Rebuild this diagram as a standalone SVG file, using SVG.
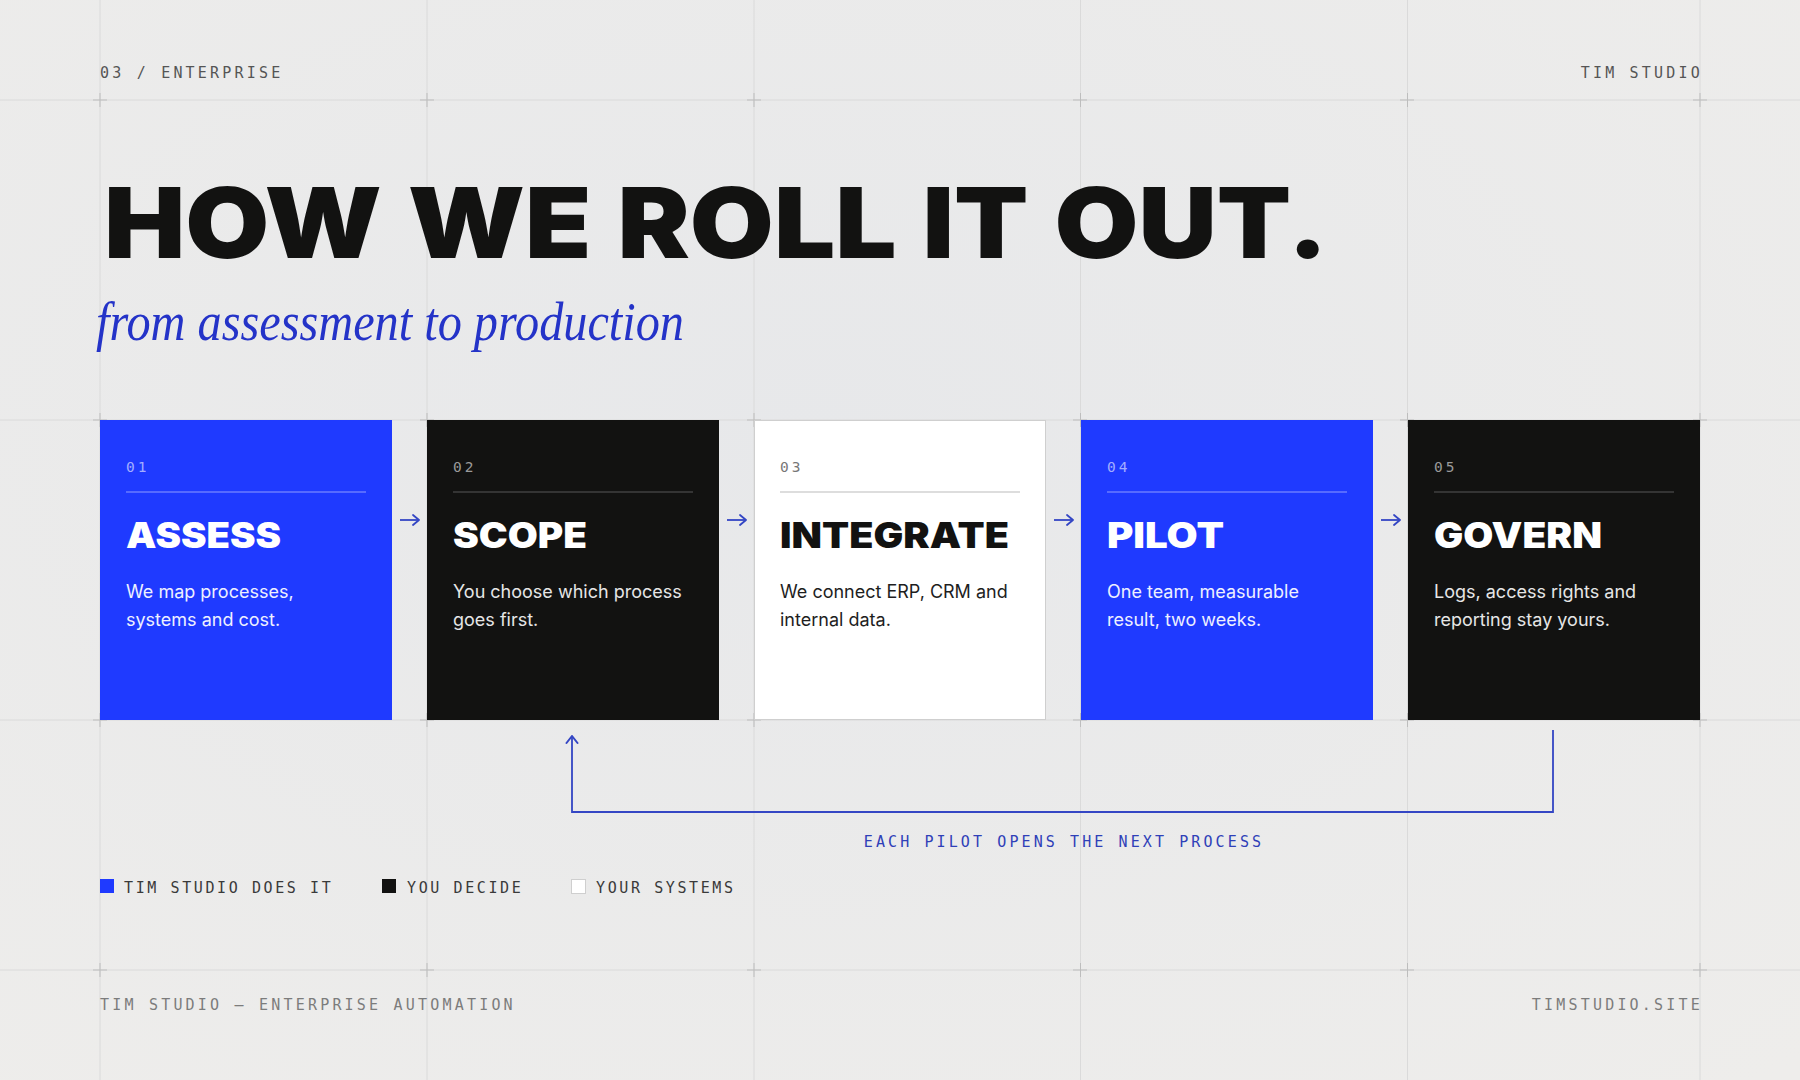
<svg xmlns="http://www.w3.org/2000/svg" width="1800" height="1080" viewBox="0 0 1800 1080">
  <defs>
    <radialGradient id="bg" cx="0.45" cy="0.4" r="0.8">
      <stop offset="0" stop-color="#e7e8ea"/>
      <stop offset="1" stop-color="#eeedeb"/>
    </radialGradient>
    <marker id="chev" viewBox="0 0 12 12" refX="11" refY="6" markerWidth="12" markerHeight="12" markerUnits="userSpaceOnUse" orient="auto">
      <polyline points="5,1 11,6 5,11" fill="none" stroke="#3446c4" stroke-width="1.8" stroke-linecap="round" stroke-linejoin="round"/>
    </marker>
    <marker id="chevUp" viewBox="0 0 14 14" refX="13" refY="7" markerWidth="14" markerHeight="14" markerUnits="userSpaceOnUse" orient="auto">
      <polyline points="6,1.5 13,7 6,12.5" fill="none" stroke="#3446c4" stroke-width="2" stroke-linecap="round" stroke-linejoin="round"/>
    </marker>
  </defs>
  <style>
    .grid line { stroke: #dadada; stroke-width: 1; }
    .cross line { stroke: #bdbdbd; stroke-width: 1; }
    .mono { font-family: "DejaVu Sans Mono", "Liberation Mono", monospace; }
    .meta { font-size: 15px; letter-spacing: 3.2px; fill: #555555; }
    .foot { font-size: 15px; letter-spacing: 3.2px; fill: #7c7c7c; }
    .legend { font-size: 15px; letter-spacing: 2.6px; fill: #3a3a3a; }
    .head { font-family: Inter, "Liberation Sans", sans-serif; font-weight: 900; font-size: 98px; fill: #121211; word-spacing: 4px; }
    .script { font-family: "Liberation Serif", "DejaVu Serif", serif; font-style: italic; font-size: 54px; fill: #2433c8; }
    .num { font-family: "DejaVu Sans Mono", "Liberation Mono", monospace; font-size: 14.5px; letter-spacing: 3px; }
    .title { font-family: Inter, "Liberation Sans", sans-serif; font-weight: 900; font-size: 35px; }
    .body { font-family: Inter, "Liberation Sans", sans-serif; font-size: 18px; }
    .blue .bg { fill: #1f3aff; }
    .blue .num { fill: #a3adff; }
    .blue .div { stroke: #6b7dff; }
    .blue .title { fill: #ffffff; }
    .blue .body { fill: #eef0ff; }
    .dark .bg { fill: #121211; }
    .dark .num { fill: #9a9a9a; }
    .dark .div { stroke: #404040; }
    .dark .title { fill: #ffffff; }
    .dark .body { fill: #e6e6e6; }
    .light .bg { fill: #ffffff; stroke: #cfcfcf; stroke-width: 1; }
    .light .num { fill: #777777; }
    .light .div { stroke: #d2d2d2; }
    .light .title { fill: #121211; }
    .light .body { fill: #1e1e1e; }
    .div { stroke-width: 1.5; }
    .conn { fill: none; stroke: #3446c4; stroke-width: 1.8; }
    .note { font-size: 15px; letter-spacing: 3.1px; fill: #2f40b8; }
  </style>

  <rect width="1800" height="1080" fill="url(#bg)"/>

  <g class="grid">
    <line x1="100" y1="0" x2="100" y2="1080"/>
    <line x1="427" y1="0" x2="427" y2="1080"/>
    <line x1="754" y1="0" x2="754" y2="1080"/>
    <line x1="1080.5" y1="0" x2="1080.5" y2="1080"/>
    <line x1="1407.5" y1="0" x2="1407.5" y2="1080"/>
    <line x1="1700" y1="0" x2="1700" y2="1080"/>
    <line x1="0" y1="100" x2="1800" y2="100"/>
    <line x1="0" y1="420" x2="1800" y2="420"/>
    <line x1="0" y1="720" x2="1800" y2="720"/>
    <line x1="0" y1="970" x2="1800" y2="970"/>
  </g>
  <g class="cross">
    <line x1="93" y1="100" x2="107" y2="100"/><line x1="100" y1="93" x2="100" y2="107"/>
    <line x1="420" y1="100" x2="434" y2="100"/><line x1="427" y1="93" x2="427" y2="107"/>
    <line x1="747" y1="100" x2="761" y2="100"/><line x1="754" y1="93" x2="754" y2="107"/>
    <line x1="1073" y1="100" x2="1087" y2="100"/><line x1="1080.5" y1="93" x2="1080.5" y2="107"/>
    <line x1="1400" y1="100" x2="1414" y2="100"/><line x1="1407.5" y1="93" x2="1407.5" y2="107"/>
    <line x1="1693" y1="100" x2="1707" y2="100"/><line x1="1700" y1="93" x2="1700" y2="107"/>
    <line x1="93" y1="420" x2="107" y2="420"/><line x1="100" y1="413" x2="100" y2="427"/>
    <line x1="420" y1="420" x2="434" y2="420"/><line x1="427" y1="413" x2="427" y2="427"/>
    <line x1="747" y1="420" x2="761" y2="420"/><line x1="754" y1="413" x2="754" y2="427"/>
    <line x1="1073" y1="420" x2="1087" y2="420"/><line x1="1080.5" y1="413" x2="1080.5" y2="427"/>
    <line x1="1400" y1="420" x2="1414" y2="420"/><line x1="1407.5" y1="413" x2="1407.5" y2="427"/>
    <line x1="1693" y1="420" x2="1707" y2="420"/><line x1="1700" y1="413" x2="1700" y2="427"/>
    <line x1="93" y1="720" x2="107" y2="720"/><line x1="100" y1="713" x2="100" y2="727"/>
    <line x1="420" y1="720" x2="434" y2="720"/><line x1="427" y1="713" x2="427" y2="727"/>
    <line x1="747" y1="720" x2="761" y2="720"/><line x1="754" y1="713" x2="754" y2="727"/>
    <line x1="1073" y1="720" x2="1087" y2="720"/><line x1="1080.5" y1="713" x2="1080.5" y2="727"/>
    <line x1="1400" y1="720" x2="1414" y2="720"/><line x1="1407.5" y1="713" x2="1407.5" y2="727"/>
    <line x1="1693" y1="720" x2="1707" y2="720"/><line x1="1700" y1="713" x2="1700" y2="727"/>
    <line x1="93" y1="970" x2="107" y2="970"/><line x1="100" y1="963" x2="100" y2="977"/>
    <line x1="420" y1="970" x2="434" y2="970"/><line x1="427" y1="963" x2="427" y2="977"/>
    <line x1="747" y1="970" x2="761" y2="970"/><line x1="754" y1="963" x2="754" y2="977"/>
    <line x1="1073" y1="970" x2="1087" y2="970"/><line x1="1080.5" y1="963" x2="1080.5" y2="977"/>
    <line x1="1400" y1="970" x2="1414" y2="970"/><line x1="1407.5" y1="963" x2="1407.5" y2="977"/>
    <line x1="1693" y1="970" x2="1707" y2="970"/><line x1="1700" y1="963" x2="1700" y2="977"/>
  </g>

  <g id="header">
    <text class="mono meta" x="100" y="78">03 / ENTERPRISE</text>
    <text class="mono meta" x="1703" y="78" text-anchor="end">TIM STUDIO</text>
  </g>

  <g id="title">
    <text class="head" x="104" y="258" textLength="1224" lengthAdjust="spacingAndGlyphs">HOW WE ROLL IT OUT.</text>
    <text class="script" x="96" y="340" textLength="588" lengthAdjust="spacingAndGlyphs">from assessment to production</text>
  </g>

  <g id="card-assess" class="blue">
    <rect class="bg" x="100" y="420" width="292" height="300"/>
    <text class="num" x="126" y="472">01</text>
    <line class="div" x1="126" y1="492" x2="366" y2="492"/>
    <text class="title" x="126" y="548" textLength="155" lengthAdjust="spacingAndGlyphs">ASSESS</text>
    <text class="body" x="126" y="598">We map processes,</text>
    <text class="body" x="126" y="626">systems and cost.</text>
  </g>
  <g id="card-scope" class="dark">
    <rect class="bg" x="427" y="420" width="292" height="300"/>
    <text class="num" x="453" y="472">02</text>
    <line class="div" x1="453" y1="492" x2="693" y2="492"/>
    <text class="title" x="453" y="548" textLength="134" lengthAdjust="spacingAndGlyphs">SCOPE</text>
    <text class="body" x="453" y="598">You choose which process</text>
    <text class="body" x="453" y="626">goes first.</text>
  </g>
  <g id="card-integrate" class="light">
    <rect class="bg" x="754.5" y="420.5" width="291" height="299"/>
    <text class="num" x="780" y="472">03</text>
    <line class="div" x1="780" y1="492" x2="1020" y2="492"/>
    <text class="title" x="780" y="548" textLength="229" lengthAdjust="spacingAndGlyphs">INTEGRATE</text>
    <text class="body" x="780" y="598">We connect ERP, CRM and</text>
    <text class="body" x="780" y="626">internal data.</text>
  </g>
  <g id="card-pilot" class="blue">
    <rect class="bg" x="1081" y="420" width="292" height="300"/>
    <text class="num" x="1107" y="472">04</text>
    <line class="div" x1="1107" y1="492" x2="1347" y2="492"/>
    <text class="title" x="1107" y="548" textLength="117" lengthAdjust="spacingAndGlyphs">PILOT</text>
    <text class="body" x="1107" y="598">One team, measurable</text>
    <text class="body" x="1107" y="626">result, two weeks.</text>
  </g>
  <g id="card-govern" class="dark">
    <rect class="bg" x="1408" y="420" width="292" height="300"/>
    <text class="num" x="1434" y="472">05</text>
    <line class="div" x1="1434" y1="492" x2="1674" y2="492"/>
    <text class="title" x="1434" y="548" textLength="168" lengthAdjust="spacingAndGlyphs">GOVERN</text>
    <text class="body" x="1434" y="598">Logs, access rights and</text>
    <text class="body" x="1434" y="626">reporting stay yours.</text>
  </g>

  <g id="connectors">
    <line class="conn" x1="400" y1="520" x2="419" y2="520" marker-end="url(#chev)"/>
    <line class="conn" x1="727" y1="520" x2="746" y2="520" marker-end="url(#chev)"/>
    <line class="conn" x1="1054" y1="520" x2="1073" y2="520" marker-end="url(#chev)"/>
    <line class="conn" x1="1381" y1="520" x2="1400" y2="520" marker-end="url(#chev)"/>
    <path class="conn" d="M1553 730 V812 H572 V736" marker-end="url(#chevUp)"/>
    <text class="mono note" x="1064" y="847" text-anchor="middle">EACH PILOT OPENS THE NEXT PROCESS</text>
  </g>

  <g id="legend">
    <rect x="100" y="879" width="14" height="14" fill="#1f3aff"/>
    <text class="mono legend" x="124" y="893">TIM STUDIO DOES IT</text>
    <rect x="382" y="879" width="14" height="14" fill="#121211"/>
    <text class="mono legend" x="407" y="893">YOU DECIDE</text>
    <rect x="571.5" y="879.5" width="14" height="14" fill="#ffffff" stroke="#cfcfcf" stroke-width="1"/>
    <text class="mono legend" x="596" y="893">YOUR SYSTEMS</text>
  </g>

  <g id="footer">
    <text class="mono foot" x="100" y="1010">TIM STUDIO — ENTERPRISE AUTOMATION</text>
    <text class="mono foot" x="1703" y="1010" text-anchor="end">TIMSTUDIO.SITE</text>
  </g>
</svg>
